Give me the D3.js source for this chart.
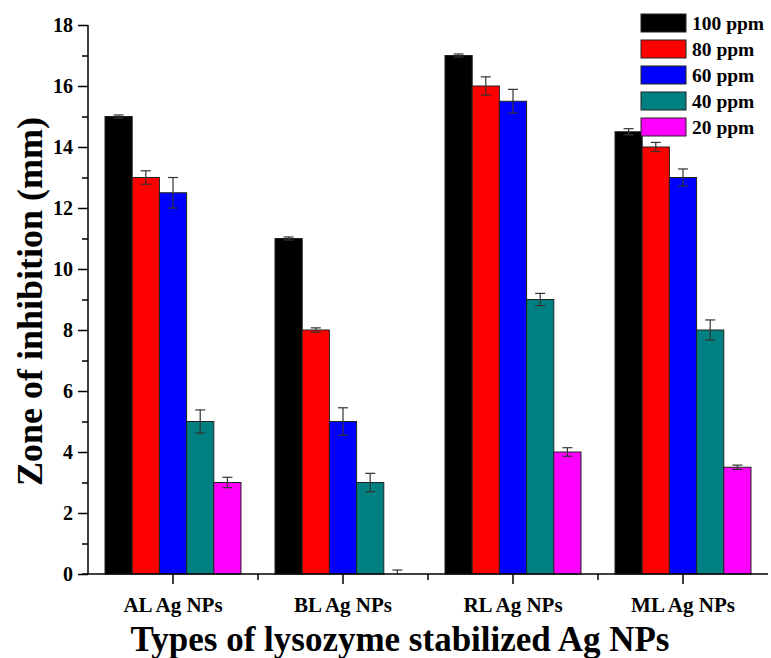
<!DOCTYPE html>
<html>
<head>
<meta charset="utf-8">
<script src="https://cdn.jsdelivr.net/npm/d3@7"></script>
<style>
  body { margin: 0; background: #fff; }
</style>
</head>
<body>
<svg id="chart" width="771" height="658"></svg>
<script>
// Data
const categories = ['AL Ag NPs', 'BL Ag NPs', 'RL Ag NPs', 'ML Ag NPs'];
const series = ['100 ppm', '80 ppm', '60 ppm', '40 ppm', '20 ppm'];
const colors = ['#000000', '#ff0000', '#0000ff', '#008080', '#ff00ff'];

// one array per series, in category order
const v100 = [15, 11, 17, 14.5];
const v80 = [13, 8, 16, 14];
const v60 = [12.5, 5, 15.5, 13];
const v40 = [5, 3, 9, 8];
const v20 = [3, 0, 4, 3.5];

const e100 = [0.05, 0.05, 0.05, 0.1];
const e80 = [0.22, 0.07, 0.3, 0.15];
const e60 = [0.5, 0.45, 0.39, 0.28];
const e40 = [0.38, 0.3, 0.2, 0.33];
const e20 = [0.17, 0.13, 0.14, 0.07];

const values = [v100, v80, v60, v40, v20];
const errors = [e100, e80, e60, e40, e20];
const yTicks = [0, 2, 4, 6, 8, 10, 12, 14, 16, 18];

var FONT = "'Liberation Serif', 'Times New Roman', 'DejaVu Serif', serif";

var svg = d3.select('#chart')
  .attr('font-family', FONT)
  .attr('font-weight', 'bold');
var margin = {left: 88, right: 3, top: 25, bottom: 84};
var width = 771, height = 658;

var x0 = d3.scaleBand()
  .domain(categories)
  .range([margin.left, width - margin.right])
  .padding(0);

var x1 = d3.scaleBand()
  .domain(series)
  .range([0, x0.bandwidth() * 0.8]);

var y = d3.scaleLinear()
  .domain([0, 18])
  .range([height - margin.bottom, margin.top]);

// flat list of bars
var bars = [];
categories.forEach(function(c, i) {
  series.forEach(function(s, j) {
    bars.push({cat: c, ser: s, color: colors[j], value: values[j][i], err: errors[j][i]});
  });
});

var offset = x0.bandwidth() * 0.1;

svg.append('g')
  .selectAll('rect')
  .data(bars)
  .join('rect')
  .attr('x', function(d) { return x0(d.cat) + offset + x1(d.ser) })
  .attr('y', function(d) { return y(d.value) })
  .attr('width', x1.bandwidth())
  .attr('height', function(d) { return y(0) - y(d.value) })
  .style('fill', function(d) { return d.color })
  .style('stroke', '#222')
  .style('stroke-width', 1);

// error bars
var eb = svg.append('g')
  .selectAll('g')
  .data(bars)
  .join('g')
  .attr('transform', function(d) { return 'translate(' + (x0(d.cat) + offset + x1(d.ser) + x1.bandwidth() / 2) + ',0)' })
  .style('stroke', '#333')
  .style('stroke-width', 1.2);

eb.append('line')
  .attr('y1', function(d) { return y(d.value + d.err) })
  .attr('y2', function(d) { return y(Math.max(0, d.value - d.err)) });
eb.append('line')
  .attr('x1', -5).attr('x2', 5)
  .attr('y1', function(d) { return y(d.value + d.err) })
  .attr('y2', function(d) { return y(d.value + d.err) });
eb.filter(function(d) { return d.value > 0 })
  .append('line')
  .attr('x1', -5).attr('x2', 5)
  .attr('y1', function(d) { return y(d.value - d.err) })
  .attr('y2', function(d) { return y(d.value - d.err) });

// y axis
var yAxis = svg.append('g')
  .attr('transform', 'translate(' + margin.left + ',0)')
  .call(d3.axisLeft(y).tickValues(yTicks).tickSize(10).tickPadding(5).tickFormat(d3.format('d')));
yAxis.attr('font-family', FONT).attr('font-size', 20);
yAxis.selectAll('text').style('fill', '#000');
yAxis.select('.domain').attr('d', 'M0,' + y(18) + 'V' + y(0)).style('stroke-width', 1.5);
yAxis.selectAll('.tick line').style('stroke-width', 1.5);
svg.append('g')
  .attr('transform', 'translate(' + margin.left + ',0)')
  .call(d3.axisLeft(y).tickValues(d3.range(1, 18, 2)).tickSize(6).tickFormat(''))
  .call(function(g) { g.select('.domain').remove() })
  .selectAll('line').style('stroke-width', 1.5);

// x axis
var xAxis = svg.append('g')
  .attr('transform', 'translate(0,' + y(0) + ')')
  .call(d3.axisBottom(x0).tickSize(10).tickPadding(13).tickSizeOuter(0));
xAxis.attr('font-family', FONT).attr('font-size', 21);
xAxis.selectAll('text').style('fill', '#000');
xAxis.select('.domain').attr('d', 'M' + (margin.left - 6) + ',0H' + (width - margin.right)).style('stroke-width', 1.5);
xAxis.selectAll('.tick line').style('stroke-width', 1.5);
// minor ticks at group borders
svg.append('g')
  .selectAll('line')
  .data(categories.slice(1))
  .join('line')
  .attr('x1', function(d) { return x0(d) })
  .attr('x2', function(d) { return x0(d) })
  .attr('y1', y(0))
  .attr('y2', y(0) + 6)
  .style('stroke', '#000')
  .style('stroke-width', 1.5);

// axis titles
svg.append('text')
  .attr('x', 400)
  .attr('y', 651)
  .attr('text-anchor', 'middle')
  .attr('font-size', 35)
  .text('Types of lysozyme stabilized Ag NPs');

svg.append('text')
  .attr('transform', 'translate(42,' + (y(9) + 2) + ') rotate(-90)')
  .attr('text-anchor', 'middle')
  .attr('font-size', 36)
  .text('Zone of inhibition (mm)');

// legend
var legend = svg.append('g')
  .selectAll('g')
  .data(series)
  .join('g')
  .attr('transform', function(d, i) { return 'translate(641,' + (14 + i * 26) + ')' });
legend.append('rect')
  .attr('width', 45)
  .attr('height', 18)
  .style('fill', function(d, i) { return colors[i] })
  .style('stroke', '#222')
  .style('stroke-width', 1);
legend.append('text')
  .attr('x', 51)
  .attr('y', 16)
  .attr('font-size', 19.5)
  .text(function(d) { return d });
</script>
</body>
</html>
